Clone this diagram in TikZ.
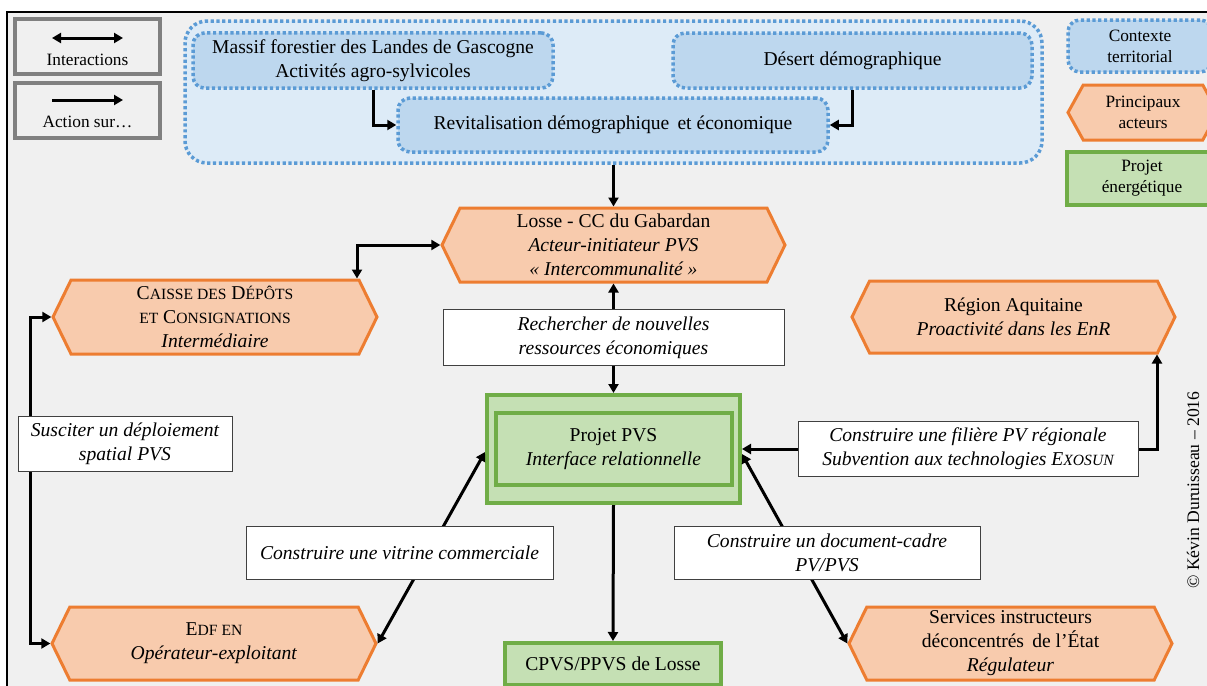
\documentclass[tikz,border=0pt]{standalone}
\usepackage{fontspec}
\setmainfont{Liberation Serif}
\usetikzlibrary{arrows.meta,shapes.symbols}

\definecolor{fond}{HTML}{F0F0F0}
\definecolor{bleuzone}{HTML}{DDEBF7}
\definecolor{bleuboite}{HTML}{BDD7EE}
\definecolor{bleubord}{HTML}{5B9BD5}
\definecolor{orangefond}{HTML}{F8CBAD}
\definecolor{orangebord}{HTML}{ED7D31}
\definecolor{vertfond}{HTML}{C5E0B4}
\definecolor{vertbord}{HTML}{70AD47}
\definecolor{grisleg}{HTML}{808080}
\definecolor{grisaction}{HTML}{404040}

\newcommand\pc[1]{{\fontsize{7.8}{12}\selectfont #1}}

\begin{document}
\begin{tikzpicture}[x=0.5pt, y=-0.5pt, >={Triangle[length=4.5pt,width=5pt]},
  every node/.style={font=\fontsize{9.8}{12}\selectfont, align=center},
  fleche/.style={line width=1.5pt},
  legende/.style={draw=grisleg, fill=fond, line width=1.75pt},
  petit/.style={font=\fontsize{8.65}{10.5}\selectfont},
  contexte/.style={draw=bleubord, fill=bleuboite, line width=1.75pt,
    dash pattern=on 1.6pt off 1.3pt, rounded corners=6pt},
  acteur/.style={signal, signal to=west and east, signal pointer angle=128,
    draw=orangebord, fill=orangefond, line width=1.5pt, inner sep=0pt},
  projetbox/.style={draw=vertbord, fill=vertfond, line width=2pt},
  action/.style={draw=grisaction, fill=white, line width=.5pt,
    font=\fontsize{9.8}{12}\selectfont\itshape}]

  \useasboundingbox (0,0) rectangle (1207,686);
  \clip (0,0) rectangle (1207,686);
  \fill[fond] (7,12) rectangle (1230,700);
  \draw[line width=.8pt] (7,700) -- (7,12) -- (1230,12);

  % legende
  \node[legende, minimum width=72.5pt, minimum height=27.5pt] (legint) at (87.5,46.5) {};
  \node[petit] (txtint) at (87.5,60) {Interactions};
  \draw[fleche, <->] (52,38) coordinate (i1) -- (123,38) coordinate (i2);
  \node[legende, minimum width=72.5pt, minimum height=27.5pt] (legact) at (87.5,110.5) {};
  \node[petit] (txtact) at (87.5,122) {Action sur\dots};
  \draw[fleche, ->] (52,100) coordinate (a1) -- (123,100) coordinate (a2);

  \node[contexte, petit, minimum width=72pt, minimum height=26pt] (legctx) at (1140,46) {Contexte\\territorial};
  \node[acteur, petit, signal pointer angle=122, minimum width=75pt, minimum height=27.5pt] (legact2) at (1143,112.5) {Principaux\\acteurs};
  \node[projetbox, petit, minimum width=75pt, minimum height=26.5pt] (legproj) at (1142,178.5) {Projet\\énergétique};

  % contexte territorial
  \node[contexte, fill=bleuzone, rounded corners=11pt, minimum width=428.5pt, minimum height=71pt] (zone) at (613.5,92) {};
  \node[contexte, minimum width=180pt, minimum height=27.5pt] (massif) at (373,60.5) {Massif forestier des Landes de Gascogne\\Activités agro-sylvicoles};
  \node[contexte, minimum width=179.5pt, minimum height=27.5pt] (desert) at (852.5,60.5) {Désert démographique};
  \node[contexte, minimum width=215pt, minimum height=27pt] (revit) at (613,125) {Revitalisation démographique\, et économique};
  \draw[fleche, ->] (massif.south) |- (revit.west);
  \draw[fleche, ->] (desert.south) |- (revit.east);

  % acteurs
  \node[acteur, minimum width=171.5pt, minimum height=37pt] (losse) at (613.5,245) {Losse - CC du Gabardan\\\textit{Acteur-initiateur PVS}\\\textit{« Intercommunalité »}};
  \node[acteur, minimum width=162pt, minimum height=37pt] (caisse) at (215,317) {C\pc{AISSE DES} D\pc{ÉPÔTS}\\\pc{ET} C\pc{ONSIGNATIONS}\\\textit{Intermédiaire}};
  \node[acteur, minimum width=161.5pt, minimum height=36pt] (region) at (1013.5,317) {Région Aquitaine\\\textit{Proactivité dans les EnR}};
  \node[acteur, minimum width=162pt, minimum height=36.5pt] (edf) at (214,643.5) {E\pc{DF EN}\\\textit{Opérateur-exploitant}};
  \node[acteur, minimum width=161.5pt, minimum height=36.5pt] (services) at (1010.5,643.5) {Services instructeurs\\déconcentrés\, de l'État\\\textit{Régulateur}};

  % projet
  \node[projetbox, minimum width=126.5pt, minimum height=54pt] (projet) at (613.5,449) {};
  \node[projetbox, minimum width=118pt, minimum height=36pt] (projetint) at (613.5,449) {Projet PVS\\\textit{Interface relationnelle}};
  \node[projetbox, minimum width=108pt, minimum height=21pt] (cpvs) at (613,664) {CPVS/PPVS de Losse};

  % liens
  \draw[fleche, ->] (zone.south) -- (losse.north);
  \draw[fleche, <->] ([xshift=71pt]caisse.north) |- (losse.west);
  \draw[fleche, <->] (losse.south) -- (projet.north);
  \draw[fleche, <->] (caisse.west) -- ++(-21,0) |- (edf.west);
  \draw[fleche, <->] (projet.east) -| ([xshift=71.75pt]region.south);
  \draw[fleche, <->] (edf.east) -- ([yshift=-1.5pt]projet.west);
  \draw[fleche, <->] ([yshift=-2.5pt]projet.east) -- (services.west);
  \draw[fleche, ->] (projet.south) -- (cpvs.north);

  \node[action, minimum width=170.5pt, minimum height=26.5pt] (recherche) at (613.5,337.5) {Rechercher de nouvelles\\ressources économiques};
  \node[action, minimum width=107pt, minimum height=26pt] (susciter) at (125,444) {Susciter un déploiement\\spatial PVS};
  \node[action, minimum width=170pt, minimum height=26pt] (filiere) at (968,449) {Construire une filière PV régionale\\Subvention aux technologies E\pc{XOSUN}};
  \node[action, minimum width=153.5pt, minimum height=26.5pt] (vitrine) at (399.5,552.5) {Construire une vitrine commerciale};
  \node[action, minimum width=153pt, minimum height=26.5pt] (cadre) at (827,552.5) {Construire un document-cadre\\PV/PVS};

  \node[rotate=90, font=\fontsize{8.8}{10}\selectfont] (copyright) at (1193,490) {© Kévin Duruisseau -- 2016};
\end{tikzpicture}
\end{document}
